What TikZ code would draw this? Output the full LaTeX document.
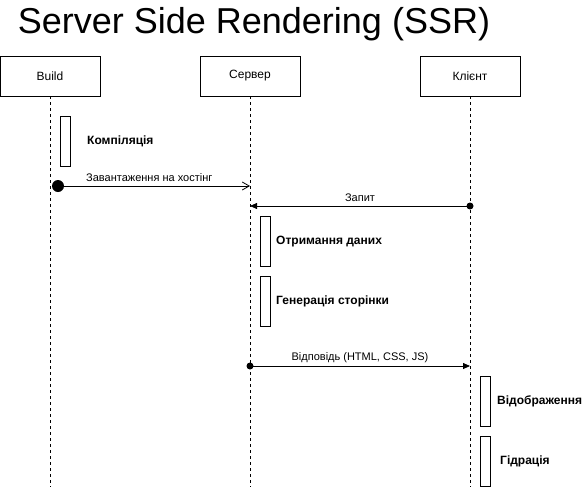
\documentclass[tikz,border=0pt]{standalone}
\usepackage{fontspec}
\setmainfont{Liberation Sans}
\usetikzlibrary{arrows.meta}
\begin{document}
\begin{tikzpicture}[x=1pt,y=-1pt,
  part/.style={draw, line width=0.8pt, minimum width=100pt, minimum height=40pt, inner sep=0pt, font=\fontsize{12}{14}\selectfont},
  life/.style={line width=0.8pt, dash pattern=on 3pt off 3pt},
  act/.style={draw, line width=0.8pt, minimum width=10pt, minimum height=50pt, inner sep=0pt},
  actlbl/.style={anchor=west, inner sep=0pt, font=\fontsize{12}{14}\selectfont\bfseries},
  msglbl/.style={inner sep=0pt, font=\fontsize{11}{13}\selectfont},
  msg/.style={line width=0.8pt},
  dot/.style={circle, fill=black, inner sep=0pt}
]
\useasboundingbox (0,0) rectangle (585,487);
% title
\node[inner sep=0pt, font=\fontsize{36}{40}\selectfont] (title) at (254,24) {Server Side Rendering (SSR)};
% participants
\node[part] (build) at (50,76) {Build};
\node[part] (server) at (250,76) {Сервер};
\node[part] (client) at (470,76) {Клієнт};
% lifeline ends
\coordinate (buildend) at (50,487);
\coordinate (serverend) at (250,487);
\coordinate (clientend) at (470,487);
\draw[life] (build.south) -- (buildend);
\draw[life] (server.south) -- (serverend);
\draw[life] (client.south) -- (clientend);
% build activation
\node[act] (a1) at (65,141) {};
\node[actlbl] (l1) at (87,141) {Компіляція};
% message 1
\node[dot, minimum size=12pt] (d1) at (58,186) {};
\coordinate (e1) at (250,186);
\draw[msg, -{Straight Barb[length=7pt, width=8pt, line width=0.8pt]}] (d1.center) -- (e1);
\node[msglbl, anchor=base west] (m1) at (86,181) {Завантаження на хостінг};
% message 2
\node[dot, minimum size=7pt] (d2) at (470,206) {};
\coordinate (e2) at (250,206);
\draw[msg, -{Triangle[length=7pt, width=6pt]}] (d2.center) -- (e2);
\node[msglbl, anchor=base] (m2) at (360,201) {Запит};
% server activations
\node[act] (a2) at (265,241) {};
\node[actlbl] (l2) at (276,242) {Отримання даних};
\node[act] (a3) at (265,301) {};
\node[actlbl] (l3) at (276,301) {Генерація сторінки};
% message 3
\node[dot, minimum size=7pt] (d3) at (250,366) {};
\coordinate (e3) at (470,366);
\draw[msg, -{Triangle[length=7pt, width=6pt]}] (d3.center) -- (e3);
\node[msglbl, anchor=base] (m3) at (360,360) {Відповідь (HTML, CSS, JS)};
% client activations
\node[act] (a4) at (485,401) {};
\node[actlbl] (l4) at (497,401) {Відображення};
\node[act] (a5) at (485,461) {};
\node[actlbl] (l5) at (500,461) {Гідрація};
\end{tikzpicture}
\end{document}
